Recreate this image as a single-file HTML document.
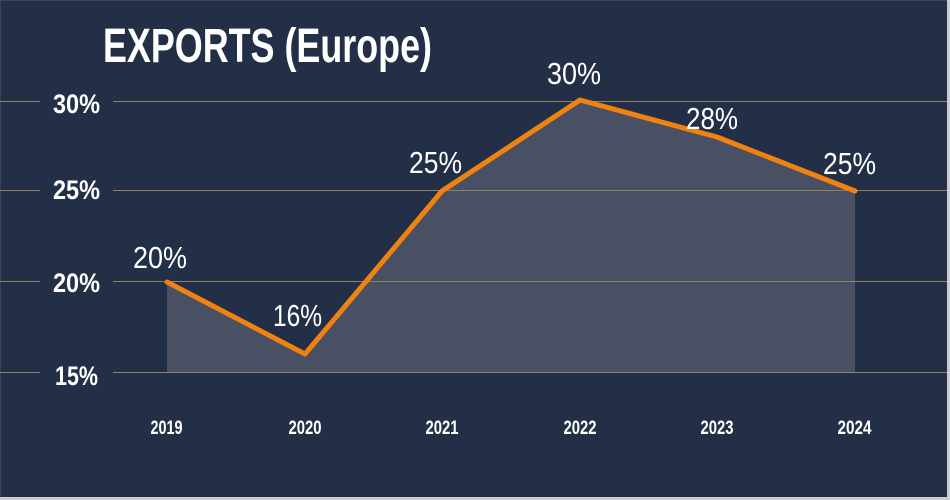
<!DOCTYPE html>
<html>
<head>
<meta charset="utf-8">
<style>
  html,body{margin:0;padding:0;background:#232f46;}
  svg{display:block;}
  text{font-family:"Liberation Sans",sans-serif;fill:#ffffff;}
</style>
</head>
<body>
<svg width="950" height="500" viewBox="0 0 950 500" xmlns="http://www.w3.org/2000/svg">
  <rect x="0" y="0" width="950" height="500" fill="#232f46"/>
  <!-- border -->
  <rect x="0.5" y="0.5" width="948" height="497" fill="none" stroke="#3a4558" stroke-width="1"/>
  <rect x="947" y="0" width="3" height="500" fill="#c9cdd3"/>
  <rect x="0" y="497" width="950" height="3" fill="#c9cdd3"/>

  <!-- fill area -->
  <polygon points="167,282 305,355 442,191 580,100 717,137 855,191 855,372.5 167,372.5" fill="#4a5063"/>

  <!-- gridlines -->
  <g stroke="#8d8266" stroke-width="1">
    <line x1="0" y1="101.5" x2="40" y2="101.5"/><line x1="113" y1="101.5" x2="947" y2="101.5"/>
    <line x1="0" y1="190.5" x2="40" y2="190.5"/><line x1="113" y1="190.5" x2="947" y2="190.5"/>
    <line x1="0" y1="281.5" x2="40" y2="281.5"/><line x1="113" y1="281.5" x2="947" y2="281.5"/>
    <line x1="0" y1="372.5" x2="40" y2="372.5"/><line x1="113" y1="372.5" x2="947" y2="372.5"/>
  </g>

  <!-- series line -->
  <polyline points="167,282 305,354 442,191 580,100 717,137 855,191" fill="none" stroke="#f0820f" stroke-width="5" stroke-linejoin="round" stroke-linecap="round"/>

  <!-- title -->
  <text x="103" y="62" font-size="48" font-weight="bold" textLength="329" lengthAdjust="spacingAndGlyphs">EXPORTS (Europe)</text>

  <!-- y labels -->
  <g font-size="27" font-weight="bold">
    <text x="53" y="113" textLength="47" lengthAdjust="spacingAndGlyphs">30%</text>
    <text x="53" y="199" textLength="47" lengthAdjust="spacingAndGlyphs">25%</text>
    <text x="53" y="292" textLength="47" lengthAdjust="spacingAndGlyphs">20%</text>
    <text x="55" y="385" textLength="43" lengthAdjust="spacingAndGlyphs">15%</text>
  </g>

  <!-- x labels -->
  <g font-size="19" font-weight="bold">
    <text x="150.5" y="434" textLength="32" lengthAdjust="spacingAndGlyphs">2019</text>
    <text x="288.5" y="434" textLength="33" lengthAdjust="spacingAndGlyphs">2020</text>
    <text x="425.5" y="434" textLength="33" lengthAdjust="spacingAndGlyphs">2021</text>
    <text x="563.5" y="434" textLength="33" lengthAdjust="spacingAndGlyphs">2022</text>
    <text x="700.5" y="434" textLength="33" lengthAdjust="spacingAndGlyphs">2023</text>
    <text x="837.5" y="434" textLength="34" lengthAdjust="spacingAndGlyphs">2024</text>
  </g>

  <!-- data labels -->
  <g font-size="31">
    <text x="133" y="268" textLength="54" lengthAdjust="spacingAndGlyphs">20%</text>
    <text x="273" y="326" textLength="49" lengthAdjust="spacingAndGlyphs">16%</text>
    <text x="409" y="173" textLength="53" lengthAdjust="spacingAndGlyphs">25%</text>
    <text x="547" y="84" textLength="54" lengthAdjust="spacingAndGlyphs">30%</text>
    <text x="686" y="129" textLength="52" lengthAdjust="spacingAndGlyphs">28%</text>
    <text x="823" y="174" textLength="53" lengthAdjust="spacingAndGlyphs">25%</text>
  </g>
</svg>
</body>
</html>
